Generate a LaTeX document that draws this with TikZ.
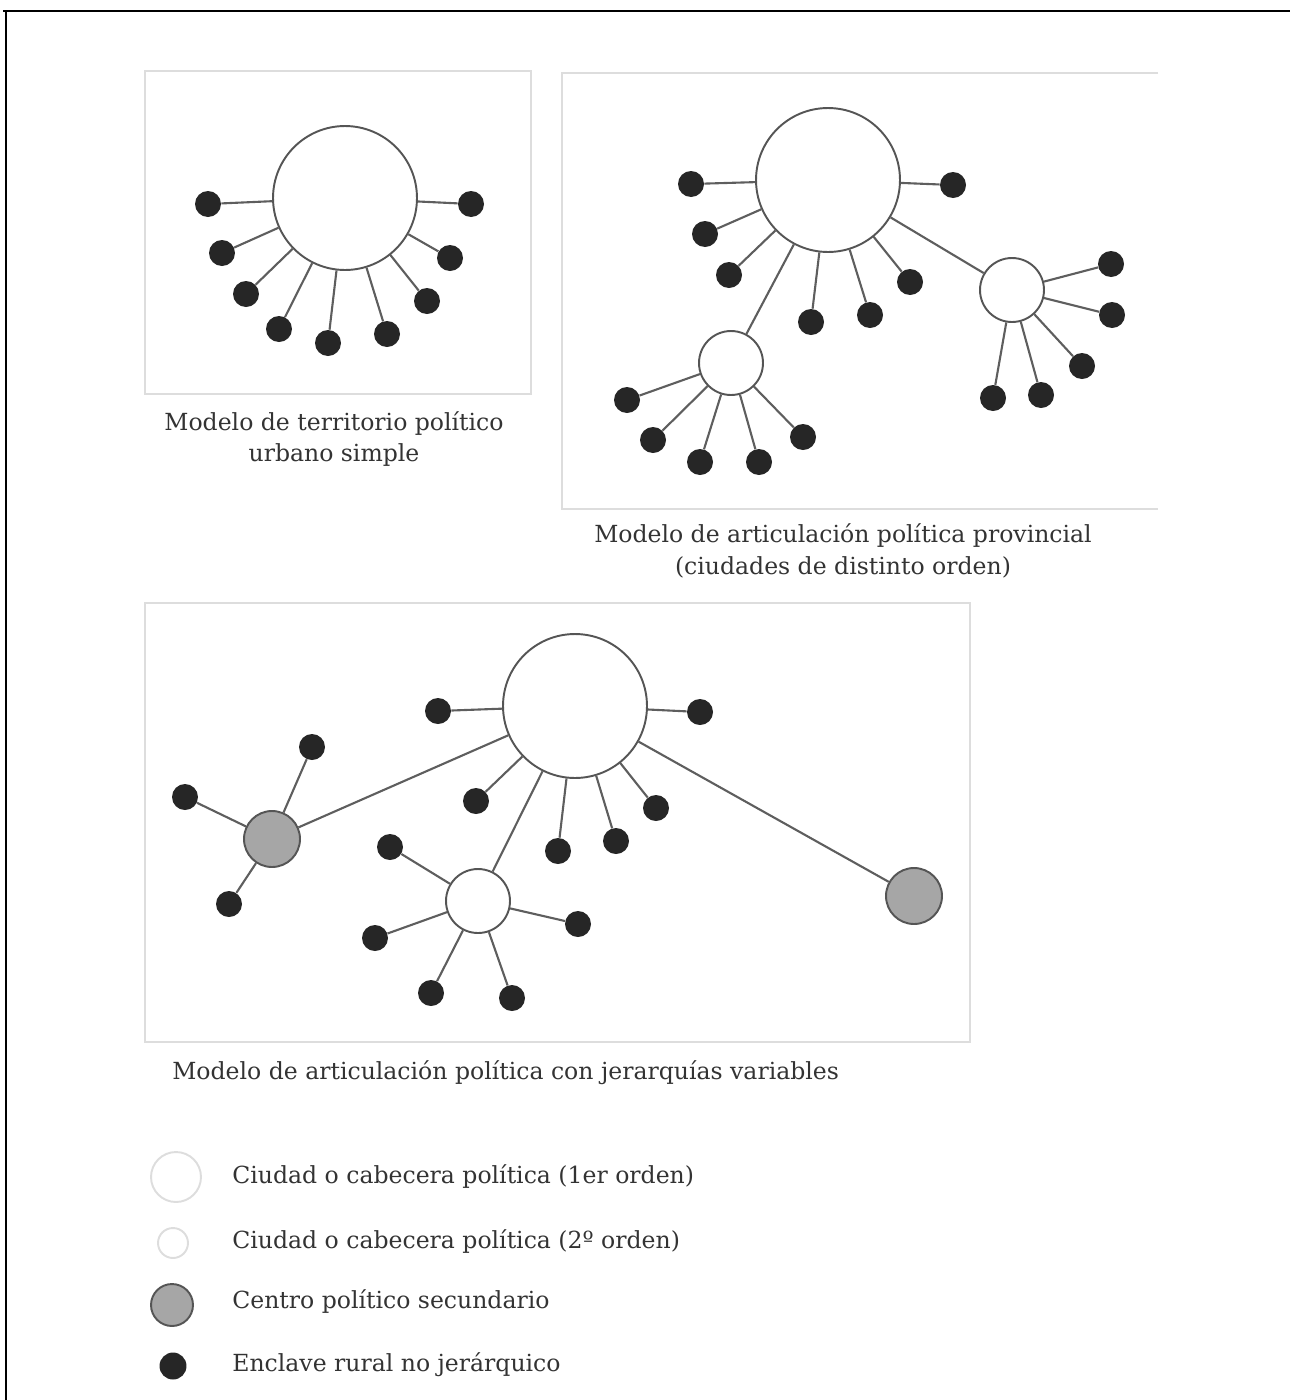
\documentclass[tikz,border=0pt]{standalone}
\usepackage{fontspec}
\setmainfont{DejaVu Serif}
\definecolor{inkc}{HTML}{333333}
\definecolor{dotc}{HTML}{262626}
\definecolor{linkc}{HTML}{5E5E5E}
\definecolor{ringc}{HTML}{555555}
\definecolor{boxc}{HTML}{DDDDDD}
\definecolor{secc}{HTML}{A6A6A6}

\tikzset{
  city/.style={circle, draw=ringc, fill=white, line width=1.1pt, inner sep=0pt, minimum size=#1},
  secondary/.style={circle, draw=ringc, fill=secc, line width=1.1pt, inner sep=0pt, minimum size=11.2mm},
  enclave/.style={circle, fill=dotc, inner sep=0pt, minimum size=5.2mm},
  link/.style={draw=linkc, line width=1.2pt},
  panel/.style={draw=boxc, line width=1.6pt},
  caption/.style={text=inkc, font=\fontsize{13.4}{18}\selectfont, align=center, inner sep=0pt},
  keytext/.style={text=inkc, font=\fontsize{13.4}{18}\selectfont, anchor=west, inner sep=0pt}
}

\begin{document}
\begin{tikzpicture}[x=0.02cm, y=-0.02cm]
\useasboundingbox (0,0) rectangle (1290,1400);

% outer frame
\draw[line width=1.7pt] (3,11) -- (1290,11);
\draw[line width=1.7pt] (6,11) -- (6,1400);

% panel boxes
\draw[panel] (145,71) rectangle (531,394);
\draw[panel] (1158,73) -- (562,73) -- (562,509) -- (1158,509);
\draw[panel] (145,603) rectangle (970,1042);

% simple urban model
\node[city=28.8mm] (ua) at (345,198) {};
\node[enclave] (ua1) at (208,204) {};
\node[enclave] (ua2) at (222,253) {};
\node[enclave] (ua3) at (246,294) {};
\node[enclave] (ua4) at (279,329) {};
\node[enclave] (ua5) at (328,343) {};
\node[enclave] (ua6) at (387,334) {};
\node[enclave] (ua7) at (427,301) {};
\node[enclave] (ua8) at (450,258) {};
\node[enclave] (ua9) at (471,204) {};
\draw[link] (ua) -- (ua1);
\draw[link] (ua) -- (ua2);
\draw[link] (ua) -- (ua3);
\draw[link] (ua) -- (ua4);
\draw[link] (ua) -- (ua5);
\draw[link] (ua) -- (ua6);
\draw[link] (ua) -- (ua7);
\draw[link] (ua) -- (ua8);
\draw[link] (ua) -- (ua9);
\node[caption] (capa) at (334,439) {Modelo de territorio político\\urbano simple};

% provincial model
\node[city=28.8mm] (pa) at (828,180) {};
\node[city=12.8mm] (pb) at (1012,290) {};
\node[city=12.8mm] (pc) at (731,363) {};
\node[enclave] (pa1) at (691,184) {};
\node[enclave] (pa2) at (705,234) {};
\node[enclave] (pa3) at (729,275) {};
\node[enclave] (pa4) at (811,322) {};
\node[enclave] (pa5) at (870,315) {};
\node[enclave] (pa6) at (910,282) {};
\node[enclave] (pa7) at (953,185) {};
\node[enclave] (pb1) at (1111,264) {};
\node[enclave] (pb2) at (1112,315) {};
\node[enclave] (pb3) at (1082,366) {};
\node[enclave] (pb4) at (1041,395) {};
\node[enclave] (pb5) at (993,398) {};
\node[enclave] (pc1) at (627,400) {};
\node[enclave] (pc2) at (653,440) {};
\node[enclave] (pc3) at (700,462) {};
\node[enclave] (pc4) at (759,462) {};
\node[enclave] (pc5) at (803,437) {};
\draw[link] (pa) -- (pb);
\draw[link] (pa) -- (pc);
\draw[link] (pa) -- (pa1);
\draw[link] (pa) -- (pa2);
\draw[link] (pa) -- (pa3);
\draw[link] (pa) -- (pa4);
\draw[link] (pa) -- (pa5);
\draw[link] (pa) -- (pa6);
\draw[link] (pa) -- (pa7);
\draw[link] (pb) -- (pb1);
\draw[link] (pb) -- (pb2);
\draw[link] (pb) -- (pb3);
\draw[link] (pb) -- (pb4);
\draw[link] (pb) -- (pb5);
\draw[link] (pc) -- (pc1);
\draw[link] (pc) -- (pc2);
\draw[link] (pc) -- (pc3);
\draw[link] (pc) -- (pc4);
\draw[link] (pc) -- (pc5);
\node[caption] (capb) at (843,551) {Modelo de articulación política provincial\\(ciudades de distinto orden)};

% variable hierarchy model
\node[city=28.8mm] (va) at (575,706) {};
\node[city=12.8mm] (vb) at (478,901) {};
\node[secondary] (vs) at (272,839) {};
\node[secondary] (vt) at (914,896) {};
\node[enclave] (va1) at (438,711) {};
\node[enclave] (va2) at (700,712) {};
\node[enclave] (va3) at (476,801) {};
\node[enclave] (va4) at (558,851) {};
\node[enclave] (va5) at (616,841) {};
\node[enclave] (va6) at (656,808) {};
\node[enclave] (vs1) at (312,747) {};
\node[enclave] (vs2) at (185,797) {};
\node[enclave] (vs3) at (229,904) {};
\node[enclave] (vb1) at (390,847) {};
\node[enclave] (vb2) at (375,938) {};
\node[enclave] (vb3) at (431,993) {};
\node[enclave] (vb4) at (512,998) {};
\node[enclave] (vb5) at (578,924) {};
\draw[link] (va) -- (vs);
\draw[link] (va) -- (vb);
\draw[link] (va) -- (vt);
\draw[link] (va) -- (va1);
\draw[link] (va) -- (va2);
\draw[link] (va) -- (va3);
\draw[link] (va) -- (va4);
\draw[link] (va) -- (va5);
\draw[link] (va) -- (va6);
\draw[link] (vs) -- (vs1);
\draw[link] (vs) -- (vs2);
\draw[link] (vs) -- (vs3);
\draw[link] (vb) -- (vb1);
\draw[link] (vb) -- (vb2);
\draw[link] (vb) -- (vb3);
\draw[link] (vb) -- (vb4);
\draw[link] (vb) -- (vb5);
\node[caption, anchor=west] (capc) at (172,1073) {Modelo de articulación política con jerarquías variables};

% key
\node[circle, draw=boxc, fill=white, line width=1.1pt, inner sep=0pt, minimum size=10mm] (ka) at (176,1177) {};
\node[circle, draw=boxc, fill=white, line width=1.1pt, inner sep=0pt, minimum size=6mm] (kb) at (173,1243) {};
\node[secondary, minimum size=8.4mm] (kc) at (172,1305) {};
\node[enclave, minimum size=5.4mm] (kd) at (173,1366) {};
\node[keytext] (kta) at (232,1177) {Ciudad o cabecera política (1er orden)};
\node[keytext] (ktb) at (232,1242) {Ciudad o cabecera política (2º orden)};
\node[keytext] (ktc) at (232,1302) {Centro político secundario};
\node[keytext] (ktd) at (232,1365) {Enclave rural no jerárquico};

\end{tikzpicture}
\end{document}
